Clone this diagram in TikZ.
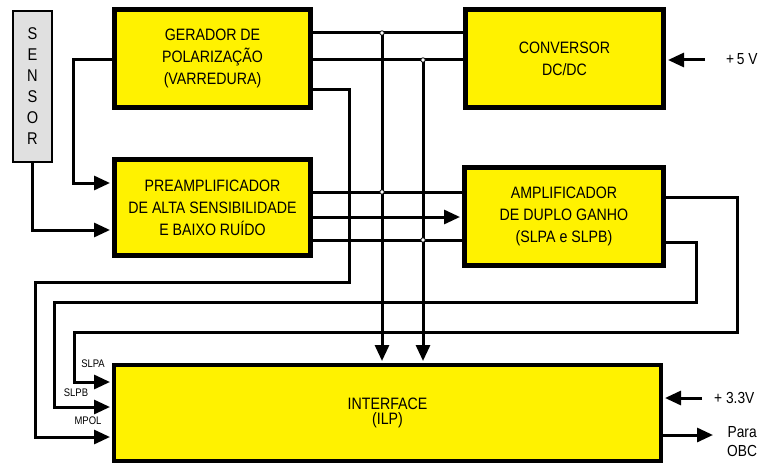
\documentclass[tikz,border=0pt]{standalone}
\usepackage{fontspec}
\setmainfont{Liberation Sans}
\newfontfamily\narrowfont[FakeStretch=0.86]{Liberation Sans}
\usetikzlibrary{arrows.meta}
\begin{document}
\begin{tikzpicture}[x=1pt,y=-1pt,
  blk/.style={draw=black, line width=5pt, fill=yellow, inner sep=0pt,
    font=\narrowfont\fontsize{16.5}{22}\selectfont, align=center, text=black},
  wire/.style={line width=3pt, line join=miter},
  arr/.style={wire, -{Triangle[length=16pt,width=14pt]}, shorten >=2pt},
  lbl/.style={font=\narrowfont\fontsize{16}{19}\selectfont, inner sep=0pt, align=center},
  sig/.style={font=\narrowfont\fontsize{11}{12}\selectfont, inner sep=0pt},
  jn/.style={circle, draw=black, fill=white, line width=0.8pt, inner sep=0pt, minimum size=4.5pt}]
\useasboundingbox (0,0) rectangle (759,465);

% blocks
\node[draw=black, line width=2pt, fill=black!12, minimum width=39pt, minimum height=151pt,
  inner sep=0pt, align=center, font=\narrowfont\fontsize{17}{21}\selectfont]
  (sensor) at (32.5,86.5) {S\\E\\N\\S\\O\\R};
\node[blk, minimum width=196pt, minimum height=98pt] (ger) at (212.5,58.5)
  {GERADOR DE\\POLARIZAÇÃO\\(VARREDURA)};
\node[blk, minimum width=198pt, minimum height=98pt] (conv) at (564.5,58.5)
  {CONVERSOR\\DC/DC};
\node[blk, minimum width=196pt, minimum height=96pt] (pre) at (212.5,207.5)
  {PREAMPLIFICADOR\\DE ALTA SENSIBILIDADE\\E BAIXO RUÍDO};
\node[blk, minimum width=199pt, minimum height=98pt] (amp) at (564,216.5)
  {AMPLIFICADOR\\DE DUPLO GANHO\\(SLPA e SLPB)};
\node[blk, line width=4pt, minimum width=547pt, minimum height=96pt] (ilp) at (387.5,413)
  {\raisebox{4pt}{\shortstack{INTERFACE\\(ILP)}}};

% junction coordinates
\coordinate (j1) at (382,33);
\coordinate (j2) at (423,60);
\coordinate (j3) at (382,192);
\coordinate (j4) at (423,240);

% gerador -> conversor
\draw[wire] (ger.east |- 0,33) -- (conv.west |- 0,33);
\draw[wire] (ger.east |- 0,60) -- (conv.west |- 0,60);
% buses down to interface
\draw[arr] (j1) -- (j1 |- ilp.north);
\draw[arr] (j2) -- (j2 |- ilp.north);
% gerador -> preamp
\draw[arr] (ger.west |- 0,60) -- (73,60) -- (73,183) -- (pre.west |- 0,183);
% sensor -> preamp
\draw[arr] (sensor.south -| 32,0) -- (32,230) -- (pre.west |- 0,230);
% gerador -> MPOL
\draw[arr] (ger.east |- 0,90) -- (349,90) -- (349,282) -- (35,282) -- (35,437) -- (ilp.west |- 0,437);
% preamp -> amplificador
\draw[wire] (pre.east |- 0,192) -- (amp.west |- 0,192);
\draw[arr] (pre.east |- 0,217) -- (amp.west |- 0,217);
\draw[wire] (pre.east |- 0,240) -- (amp.west |- 0,240);
% amplificador -> SLPA
\draw[arr] (amp.east |- 0,197) -- (737,197) -- (737,332) -- (74,332) -- (74,382) -- (ilp.west |- 0,382);
% amplificador -> SLPB
\draw[arr] (amp.east |- 0,242) -- (696,242) -- (696,302) -- (54,302) -- (54,407) -- (ilp.west |- 0,407);

% junction marks
\foreach \j in {j1,j2,j3,j4} \node[jn] at (\j) {};

% signal labels
\node[sig] (slpa) at (93,364) {SLPA};
\node[sig] (slpb) at (76,393) {SLPB};
\node[sig] (mpol) at (88,421) {MPOL};

% external
\node[lbl, anchor=west] (v5) at (726,59) {+\,5 V};
\coordinate (v5in) at (705,60);
\draw[arr] (v5in) -- (conv.east |- v5in);
\node[lbl, anchor=west] (v33) at (714,398) {+ 3.3V};
\coordinate (v33in) at (702,398);
\draw[arr] (v33in) -- (ilp.east |- v33in);
\node[lbl, anchor=west] (obc) at (727,442) {Para\\OBC};
\coordinate (obcout) at (713,435);
\draw[arr, shorten >=0pt] (ilp.east |- obcout) -- (obcout);
\end{tikzpicture}
\end{document}
